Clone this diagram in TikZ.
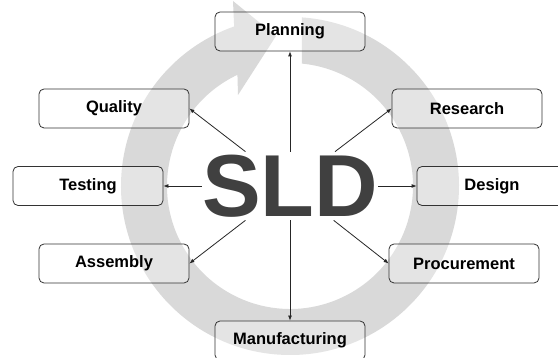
\documentclass[tikz,border=0pt]{standalone}
\usepackage{fontspec}
\setmainfont{Liberation Sans}
\usetikzlibrary{arrows.meta,calc}
\tikzset{
  stagebox/.style={draw=black!80, line width=0.8pt, rounded corners=5pt,
    minimum width=150pt, minimum height=39pt, inner sep=0pt,
    fill=white, fill opacity=0.3, text opacity=1,
    font=\fontsize{16.5}{18}\selectfont\bfseries},
  link/.style={draw=black!85, line width=0.8pt, -{Latex[length=5pt,width=4pt]}},
  ringband/.style={fill=black!15},
  hub/.style={font=\fontsize{88}{90}\selectfont\bfseries, text=black!75,
    inner xsep=0pt, inner ysep=3pt}
}
\begin{document}
\begin{tikzpicture}[x=1pt,y=1pt]
\path[use as bounding box] (0,0) rectangle (558,358);
\clip (0,0) rectangle (558,358);
\fill[white] (0,0) rectangle (558,358);
\coordinate (C) at (290,172);
% circular arrow
\fill[ringband] ($(C)+(86:169)$) arc[start angle=86, end angle=-250.7, radius=169]
  -- (233,357) -- (276,322) -- (238,263)
  -- ($(C)+(115.3:123)$) arc[start angle=-244.7, end angle=84.5, radius=123] -- cycle;
% hub
\node[hub] (sld) at (C) {SLD};
% stages
\node[stagebox] (planning) at (290,326.5) {Planning};
\node[stagebox] (quality) at (114,249.5) {Quality};
\node[stagebox] (research) at (467,249.5) {Research};
\node[stagebox] (testing) at (88,172) {Testing};
\node[stagebox] (design) at (492,172) {Design};
\node[stagebox] (assembly) at (114,94.5) {Assembly};
\node[stagebox] (procurement) at (464,94.5) {Procurement};
\node[stagebox] (manufacturing) at (290,17.5) {Manufacturing};
% links
\draw[link] (sld) -- (planning.south);
\draw[link] (sld) -- (quality.east);
\draw[link] (sld) -- (research.west);
\draw[link] (sld) -- (testing.east);
\draw[link] (sld) -- (design.west);
\draw[link] (sld) -- (assembly.east);
\draw[link] (sld) -- (procurement.west);
\draw[link] (sld) -- (manufacturing.north);
\end{tikzpicture}
\end{document}
